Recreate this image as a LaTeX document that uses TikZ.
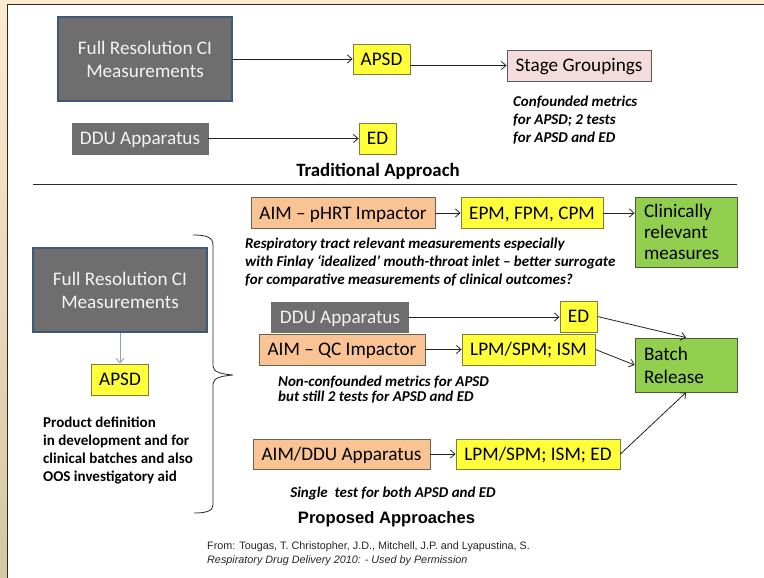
\documentclass[tikz,border=0pt]{standalone}
\usepackage{fontspec}
\setmainfont{Carlito}
\newfontfamily\arialf{Liberation Sans}
\usetikzlibrary{arrows.meta}
\definecolor{beigeT}{HTML}{FCEBD0}
\definecolor{beigeB}{HTML}{D6C7A3}
\definecolor{framec}{HTML}{2A2A2A}
\definecolor{boxgray}{HTML}{6E6E6E}
\definecolor{frblue}{HTML}{3F5878}
\definecolor{textwhite}{HTML}{F4F4F4}
\definecolor{yel}{HTML}{FFFF3A}
\definecolor{yelb}{HTML}{7E7E3C}
\definecolor{peach}{HTML}{F9C393}
\definecolor{peachb}{HTML}{6F6152}
\definecolor{pinkc}{HTML}{F3DCDB}
\definecolor{pinkb}{HTML}{5E5858}
\definecolor{greenc}{HTML}{92CF4E}
\definecolor{greenb}{HTML}{4B5A3C}
\definecolor{arrc}{HTML}{222222}
\definecolor{downc}{HTML}{8DA2C2}
\newcommand{\boxfont}{\fontsize{19.2}{23}\selectfont}
\newcommand{\notefont}{\fontsize{15}{18}\selectfont\bfseries\itshape}
\tikzset{
  boxbase/.style={draw, inner sep=0pt, font=\boxfont, align=center},
  graybox/.style={boxbase, fill=boxgray, draw=boxgray, text=textwhite},
  frbox/.style={boxbase, fill=boxgray, draw=frblue, line width=1.6pt, text=textwhite},
  ybox/.style={boxbase, fill=yel, draw=yelb, line width=0.9pt},
  pbox/.style={boxbase, fill=peach, draw=peachb, line width=0.9pt},
  pinkbox/.style={boxbase, fill=pinkc, draw=pinkb, line width=0.9pt},
  gbox/.style={boxbase, fill=greenc, draw=greenb, line width=0.9pt, align=left, text width=84pt, inner xsep=9pt},
  oneline/.style={text height=12.5pt, text depth=0pt},
  arr/.style={draw=arrc, line width=0.8pt, -{Straight Barb[length=4.5pt,width=8pt]}},
  note/.style={font=\notefont, align=left, inner sep=0pt, anchor=north west},
  title/.style={inner sep=0pt, text height=12pt, text depth=0pt},
}
\begin{document}
\begin{tikzpicture}[x=1pt,y=-1pt]
\useasboundingbox (0,0) rectangle (764,578);
\fill[white] (0,0) rectangle (764,578);
% frame
\shade[top color=beigeT, bottom color=beigeB] (0,0) rectangle (7,578);
\fill[beigeT] (0,0) rectangle (764,4);
\draw[framec, line width=1.3pt] (7.2,578) -- (7.2,4.6) -- (764,4.6);

% ---------- Traditional approach ----------
\node[frbox, minimum width=174pt, minimum height=84pt] (fr1) at (145,59) {Full Resolution CI\\Measurements};
\node[ybox, oneline, minimum width=57pt, minimum height=30pt] (apsd1) at (381.5,59) {APSD};
\node[pinkbox, oneline, minimum width=144pt, minimum height=31pt] (stage) at (579,65.5) {Stage Groupings};
\node[graybox, oneline, minimum width=136pt, minimum height=31pt] (ddu1) at (140,138.5) {DDU Apparatus};
\node[ybox, oneline, minimum width=37pt, minimum height=31pt] (ed1) at (377.5,138.5) {ED};

\draw[arr] (fr1.east) -- (apsd1.west);
\draw[arr] (apsd1.east |- stage.west) -- (stage.west);
\draw[arr] (ddu1.east) -- (ed1.west);

\node[note] (conf) at (513,96) {Confounded metrics\\for APSD; 2 tests\\for APSD and ED};
\node[title, font=\fontsize{18.8}{22}\selectfont\bfseries] (trad) at (378,170) {Traditional Approach};

\coordinate (hl1) at (33,184);
\coordinate (hl2) at (737,184);
\draw[framec, line width=0.9pt] (hl1) -- (hl2);

% ---------- Proposed approaches ----------
\node[pbox, oneline, minimum width=184pt, minimum height=31pt] (aim1) at (343,213) {AIM -- pHRT Impactor};
\node[ybox, oneline, minimum width=142pt, minimum height=31pt] (epm) at (532,213) {EPM, FPM, CPM};
\node[gbox, minimum width=102pt, minimum height=70pt, font=\fontsize{19.2}{21}\selectfont] (clin) at (686,232) {Clinically\\relevant\\measures};
\draw[arr] (aim1.east) -- (epm.west);
\draw[arr] (epm.east) -- (clin.west |- epm.east);

\node[note] (resp) at (245,238) {Respiratory tract relevant measurements especially\\with Finlay ‘idealized’ mouth-throat inlet – better surrogate\\for comparative measurements of clinical outcomes?};

\node[frbox, minimum width=174pt, minimum height=84pt] (fr2) at (120,290) {Full Resolution CI\\Measurements};
\node[ybox, oneline, minimum width=57pt, minimum height=31pt] (apsd2) at (120,379.5) {APSD};
\draw[draw=downc, line width=0.9pt, -{Straight Barb[length=4.5pt,width=8pt]}] (fr2.south) -- (apsd2.north);

\node[inner sep=0pt, anchor=north west, align=left, font=\fontsize{15}{18}\selectfont\bfseries] (prod) at (43,417) {Product definition\\in development and for\\clinical batches and also\\OOS investigatory aid};

\draw[framec, line width=0.8pt] (193,235) .. controls (206,235) and (213,237) .. (213,245) -- (213,366) .. controls (213,372) and (221,374) .. (233,375) .. controls (221,376) and (213,378) .. (213,384) -- (213,505) .. controls (213,511) and (206,513) .. (194,513);

\node[graybox, oneline, minimum width=137pt, minimum height=30pt] (ddu2) at (340,317) {DDU Apparatus};
\node[ybox, oneline, minimum width=37pt, minimum height=31pt] (ed2) at (578.5,316.5) {ED};
\node[pbox, oneline, minimum width=166pt, minimum height=31pt] (aim2) at (342,349.5) {AIM -- QC Impactor};
\node[ybox, oneline, minimum width=133pt, minimum height=31pt] (lpm1) at (528.5,349.5) {LPM/SPM; ISM};
\node[gbox, minimum width=102pt, minimum height=54pt] (batch) at (686,365) {Batch\\Release};

\draw[arr] (ddu2.east) -- (ed2.west |- ddu2.east);
\draw[arr] (aim2.east) -- (lpm1.west);
\draw[arr] (ed2.east) -- (batch.north);
\draw[arr] (lpm1.east) -- (batch.west);

\node[note, font=\fontsize{15}{14.5}\selectfont\bfseries\itshape] (nonc) at (278,376) {Non-confounded metrics for APSD\\but still 2 tests for APSD and ED};

\node[pbox, oneline, minimum width=177pt, minimum height=30pt] (aim3) at (341.5,454) {AIM/DDU Apparatus};
\node[ybox, oneline, minimum width=164pt, minimum height=30pt] (lpm2) at (538,454) {LPM/SPM; ISM; ED};
\draw[arr] (aim3.east) -- (lpm2.west);
\draw[arr] (lpm2.east) -- (batch.south);

\node[inner sep=0pt, font=\notefont, text height=10pt, text depth=0pt] (single) at (393,492) {Single~ test for both APSD and ED};
\node[title, font=\fontsize{16.6}{20}\selectfont\arialf\bfseries] (prop) at (386.5,517) {Proposed Approaches};

\node[inner sep=0pt, anchor=north west, align=left, font=\fontsize{10.8}{14}\selectfont\arialf, text=black!85] (cite) at (207,541) {From: Tougas, T. Christopher, J.D., Mitchell, J.P. and Lyapustina, S.\\\textit{Respiratory Drug Delivery 2010: - Used by Permission}};
\end{tikzpicture}
\end{document}
